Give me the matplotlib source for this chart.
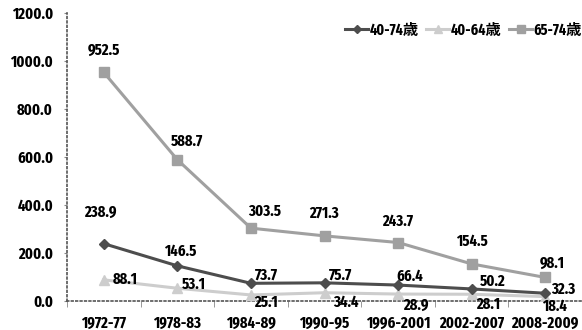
import matplotlib.pyplot as plt
import numpy as np

plt.rcParams['font.family'] = ['Fira Sans Extra Condensed', 'Noto Sans CJK JP', 'DejaVu Sans']
plt.rcParams['font.weight'] = 'bold'

periods = ["1972-77", "1978-83", "1984-89", "1990-95", "1996-2001", "2002-2007", "2008-2009"]
age_40_74 = [238.9, 146.5, 73.7, 75.7, 66.4, 50.2, 32.3]
age_40_64 = [88.1, 53.1, 25.1, 34.4, 28.9, 28.1, 18.4]
age_65_74 = [952.5, 588.7, 303.5, 271.3, 243.7, 154.5, 98.1]

# label offsets from each marker, in pixels (dx, dy)
off_40_74 = [(-3, 31), (3, 14), (15, 8), (16, 8), (12, 9), (21, 8), (18, 4)]
off_40_64 = [(21, 0), (16, 4), (15, -7), (21, -10), (18, -11), (17, -10), (9, -10)]
off_65_74 = [(0, 22), (10, 19), (14, 17), (0, 23), (0, 21), (0, 23), (7, 14)]

x = np.arange(len(periods))

fig = plt.figure(figsize=(5.82, 3.30), dpi=100)
ax = fig.add_axes([0.1151, 0.0879, 0.885, 0.8727])

ax.plot(x, age_65_74, color="#a0a0a0", lw=2.2, marker="s", ms=7.5, label="65-74歳", zorder=2)
ax.plot(x, age_40_64, color="#cdcdcd", lw=2.2, marker="^", ms=7.5, label="40-64歳", zorder=3)
ax.plot(x, age_40_74, color="#4d4d4d", lw=2.2, marker="D", ms=5.5, label="40-74歳", zorder=4)

fs = 11.5
for vals, offs in [(age_65_74, off_65_74), (age_40_74, off_40_74), (age_40_64, off_40_64)]:
    for i, v in enumerate(vals):
        ax.annotate(f"{v:.1f}", (x[i], v), xytext=offs[i], textcoords="offset pixels",
                    ha="center", va="center", fontsize=fs, fontweight="bold", zorder=5)

ax.set_xlim(-0.5, len(x) - 0.5)
ax.set_ylim(0, 1200)
yt = np.arange(0, 1201, 200)
ax.set_yticks(yt)
ax.set_yticklabels([f"{t:.1f}" for t in yt], fontsize=fs, fontweight="bold")
ax.set_xticks(x)
ax.set_xticklabels(periods, fontsize=fs, fontweight="bold")
ax.set_xticks(np.arange(-0.5, len(x), 1), minor=True)
ax.tick_params(axis="x", which="major", length=0, pad=10)
ax.tick_params(axis="x", which="minor", length=4, direction="out", color="#888888")
ax.tick_params(axis="y", length=2, color="#888888", pad=8)

for s in ["top", "right"]:
    ax.spines[s].set_visible(False)
for s in ["left", "bottom"]:
    ax.spines[s].set_linestyle(":")
    ax.spines[s].set_color("#555555")
    ax.spines[s].set_linewidth(1.2)

handles, labels = ax.get_legend_handles_labels()
order = [2, 1, 0]
ax.legend([handles[k] for k in order], [labels[k] for k in order],
          loc="center right", bbox_to_anchor=(1.0, 1 - 17 / 288), ncol=3, frameon=False,
          prop={"weight": "bold", "size": 11}, handlelength=1.5, columnspacing=0.5,
          handletextpad=0.1, markerscale=0.7, borderaxespad=0, borderpad=0)

fig.savefig("out.png", dpi=100)
